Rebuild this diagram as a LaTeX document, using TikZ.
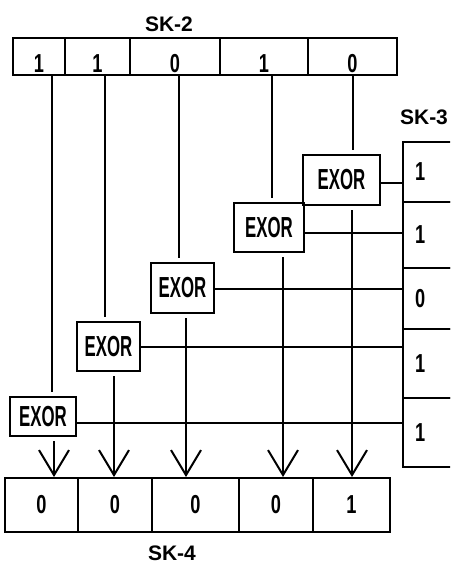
\documentclass[tikz,border=0pt]{standalone}
\usepackage{fontspec}
\setmainfont{Liberation Sans}
\newfontfamily\gatefont[FakeStretch=0.58]{Liberation Sans}
\newfontfamily\bitfont[FakeStretch=0.7]{Liberation Sans}
\usetikzlibrary{arrows.meta}

\begin{document}
\begin{tikzpicture}[x=1pt,y=-1pt,
  cell/.style={draw,line width=2pt,inner sep=0pt,minimum width=#1,
               font=\bitfont\bfseries\fontsize{26}{26}\selectfont},
  gate/.style={draw,line width=2pt,inner sep=0pt,
               font=\gatefont\bfseries\fontsize{29}{29}\selectfont},
  regname/.style={font=\bfseries\fontsize{21}{21}\selectfont},
  wire/.style={line width=2pt},
  feed/.style={wire,shorten >=4pt},
  result/.style={wire,shorten <=4pt,-{Straight Barb[length=25pt,width=30pt]}}
]
\path[use as bounding box,fill=white] (0,0) rectangle (450,572);
\clip (0,0) rectangle (450,572);

% SK-2
\node[regname] (n2) at (169,24) {SK-2};
\foreach \c/\x/\w/\v in {a/39/52/1,b/97.5/65/1,c/175/90/0,d/264/88/1,e/352.5/89/0}
  \node[cell=\w,minimum height=37,text height=33pt,text depth=0pt] (s2\c) at (\x,56.5) {\v};

% SK-3
\node[regname] (n3) at (424,117) {SK-3};
\foreach \c/\y/\h/\v in {a/172/60/1,b/235/66/1,c/298.5/61/0,d/363.5/69/1,e/432.5/69/1}
  \node[cell=56,minimum height=\h,text width=32pt,align=left] (s3\c) at (431,\y) {\v};

% SK-4
\node[regname] (n4) at (172,553) {SK-4};
\foreach \c/\x/\w/\v in {a/41.5/73/0,b/115/74/0,c/195.5/87/0,d/276/74/0,e/351.5/77/1}
  \node[cell=\w,minimum height=54] (s4\c) at (\x,505) {\v};

% gates
\foreach \g/\x/\y/\w/\h in {1/341.5/180/77/50,2/269/227.5/70/49,3/182.5/288/63/50,
                            4/108.5/346.5/63/49,5/43/416.5/66/39}
  \node[gate,minimum width=\w,minimum height=\h] (e\g) at (\x,\y) {EXOR};

% SK-2 into the gates
\foreach \c/\g/\dx in {e/1/0,d/2/8,c/3/4,b/4/7.5,a/5/13}
  \draw[feed] ([xshift=\dx]s2\c.south) -- ([xshift=\dx]s2\c.south |- e\g.north);

% SK-3 into the gates
\foreach \c/\g/\dy in {a/1/-3,b/2/-5.5,c/3/-1,d/4/0,e/5/-6.5}
  \draw[wire] ([yshift=\dy]e\g.east) -- ([yshift=\dy]e\g.east -| s3\c.west);

% gates down to SK-4
\foreach \g/\c/\dx in {1/e/10.5,2/d/14,3/c/3.5,4/b/5.5,5/a/11}
  \draw[result] ([xshift=\dx]e\g.south) -- ([xshift=\dx]e\g.south |- s4\c.north);
\end{tikzpicture}
\end{document}
